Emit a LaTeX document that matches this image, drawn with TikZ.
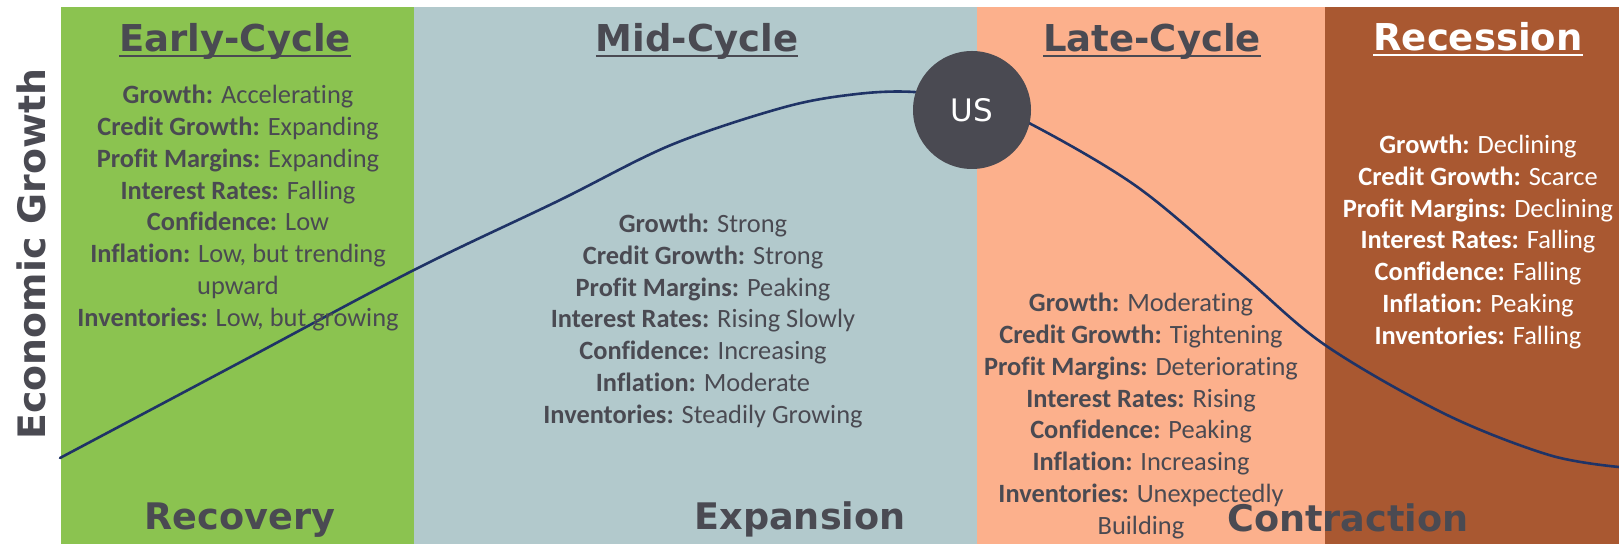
\documentclass[tikz,border=0pt]{standalone}
\usepackage{fontspec}
\setmainfont{Carlito}[Ligatures=NoCommon]
\newfontfamily\headfont{DejaVu Sans}
\usepackage{tikz}
\usetikzlibrary{positioning}

\definecolor{earlyc}{HTML}{8BC350}
\definecolor{midc}{HTML}{B2C9CC}
\definecolor{latec}{HTML}{FCB08C}
\definecolor{recc}{HTML}{A95831}
\definecolor{inkc}{HTML}{4A4A52}
\definecolor{curvec}{HTML}{1F3366}

\newcommand{\attr}[2]{\textbf{#1:} #2}
\newcommand{\titleline}[1]{\setbox0\hbox{#1}\rlap{\rule[-2.6pt]{\wd0}{1.3pt}}\box0}

\begin{document}
\begin{tikzpicture}[x=0.5pt, y=-0.5pt,
    every node/.style={inner sep=0pt, text=inkc},
    phasetitle/.style={anchor=base, font=\headfont\bfseries\fontsize{18.5}{22}\selectfont},
    phaselabel/.style={anchor=base, font=\headfont\bfseries\fontsize{18.3}{22}\selectfont},
    traits/.style={align=center, font=\fontsize{13.2}{15.9}\selectfont},
    cycleline/.style={draw=curvec, line width=1.3pt, line cap=round}]
        \useasboundingbox (0,0) rectangle (1619,544);
        \fill[white] (0,0) rectangle (1619,544);

        % phase panels
        \fill[earlyc] (61,7) rectangle (414,544);
        \fill[midc] (414,7) rectangle (977,544);
        \fill[latec] (977,7) rectangle (1325,544);
        \fill[recc] (1325,7) rectangle (1619,544);

        % growth curve
        \draw[cycleline] plot[smooth, tension=0.55] coordinates {(60,458) (237,364) (414,270) (558,201) (671,145) (785,107) (857,94) (914,92) (972,101) (1027,122) (1136,186) (1239,272) (1325,345) (1445,414) (1549,455) (1619,467)};

        \node[circle, fill=inkc, text=white, font=\headfont\fontsize{15.5}{18}\selectfont, minimum size=59pt] (us) at (972,110) {US};

        % titles
        \node[phasetitle] (early) at (235,52) {\titleline{Early-Cycle}};
        \node[phasetitle] (mid) at (697,52) {\titleline{Mid-Cycle}};
        \node[phasetitle] (late) at (1152,52) {\titleline{Late-Cycle}};
        \node[phasetitle, text=white] (rec) at (1478,51) {\titleline{Recession}};

        % traits of each phase
        \node[traits] (earlytraits) at (238,208) {\attr{Growth}{Accelerating}\\ \attr{Credit Growth}{Expanding}\\ \attr{Profit Margins}{Expanding}\\ \attr{Interest Rates}{Falling}\\ \attr{Confidence}{Low}\\ \attr{Inflation}{Low, but trending}\\ upward\\ \attr{Inventories}{Low, but growing}};
        \node[traits] (midtraits) at (703,321) {\attr{Growth}{Strong}\\ \attr{Credit Growth}{Strong}\\ \attr{Profit Margins}{Peaking}\\ \attr{Interest Rates}{Rising Slowly}\\ \attr{Confidence}{Increasing}\\ \attr{Inflation}{Moderate}\\ \attr{Inventories}{Steadily Growing}};
        \node[traits] (latetraits) at (1141,416) {\attr{Growth}{Moderating}\\ \attr{Credit Growth}{Tightening}\\ \attr{Profit Margins}{Deteriorating}\\ \attr{Interest Rates}{Rising}\\ \attr{Confidence}{Peaking}\\ \attr{Inflation}{Increasing}\\ \attr{Inventories}{Unexpectedly}\\ Building};
        \node[traits, text=white] (rectraits) at (1478,242) {\attr{Growth}{Declining}\\ \attr{Credit Growth}{Scarce}\\ \attr{Profit Margins}{Declining}\\ \attr{Interest Rates}{Falling}\\ \attr{Confidence}{Falling}\\ \attr{Inflation}{Peaking}\\ \attr{Inventories}{Falling}};

        % bottom labels
        \node[phaselabel] (recovery) at (240,530) {Recovery};
        \node[phaselabel] (expansion) at (800,530) {Expansion};
        \node[phaselabel] (contraction) at (1348,532) {Contraction};

        % axis
        \node[phaselabel, font=\headfont\bfseries\fontsize{18.9}{22}\selectfont, rotate=90] (axis) at (46,254) {Economic Growth};
    \end{tikzpicture}
\end{document}
